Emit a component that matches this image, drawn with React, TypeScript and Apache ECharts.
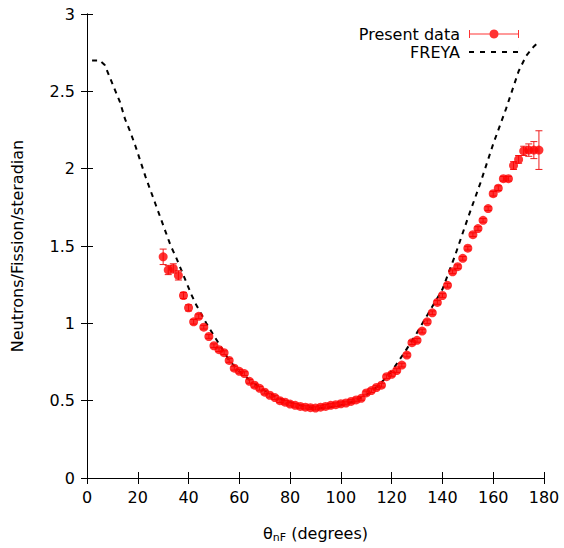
import React, { useEffect, useRef } from "react";
import * as echarts from "echarts";

const dataAngles = [
  30, 32, 34, 36, 38, 40, 42, 44, 46, 48, 50, 52, 54, 56, 58, 60, 62, 64, 66, 68,
  70, 72, 74, 76, 78, 80, 82, 84, 86, 88, 90, 92, 94, 96, 98, 100, 102, 104, 106, 108,
  110, 112, 114, 116, 118, 120, 122, 124, 126, 128, 130, 132, 134, 136, 138, 140, 142, 144, 146, 148,
  150, 152, 154, 156, 158, 160, 162, 164, 166, 168, 170, 172, 174, 176, 178,
];
const dataValues = [
  1.43, 1.345, 1.355, 1.31, 1.18, 1.1, 1.01, 1.045, 0.975, 0.915, 0.855, 0.83, 0.81, 0.76, 0.71, 0.69, 0.675, 0.625, 0.6, 0.58,
  0.555, 0.535, 0.52, 0.5, 0.49, 0.478, 0.47, 0.463, 0.458, 0.455, 0.452, 0.458, 0.463, 0.47, 0.474, 0.48, 0.485, 0.495, 0.505, 0.515,
  0.55, 0.565, 0.585, 0.6, 0.655, 0.67, 0.695, 0.73, 0.795, 0.875, 0.89, 0.95, 1.01, 1.068, 1.135, 1.18, 1.246, 1.333, 1.366, 1.42,
  1.486, 1.573, 1.613, 1.666, 1.742, 1.838, 1.874, 1.935, 1.935, 2.02, 2.06, 2.115, 2.12, 2.12, 2.12,
];
const dataErrors = [
  0.05, 0.03, 0.03, 0.03, 0.02, 0.02, 0.015, 0.015, 0.012, 0.012, 0.012, 0.012, 0.012, 0.012, 0.012, 0.012, 0.012, 0.012, 0.012, 0.012,
  0.012, 0.012, 0.012, 0.012, 0.012, 0.012, 0.012, 0.012, 0.012, 0.012, 0.012, 0.012, 0.012, 0.012, 0.012, 0.012, 0.012, 0.012, 0.012, 0.012,
  0.012, 0.012, 0.012, 0.012, 0.012, 0.012, 0.012, 0.012, 0.012, 0.012, 0.012, 0.012, 0.012, 0.012, 0.012, 0.012, 0.012, 0.012, 0.012, 0.012,
  0.012, 0.012, 0.012, 0.012, 0.012, 0.015, 0.015, 0.015, 0.015, 0.025, 0.025, 0.03, 0.04, 0.055, 0.125,
];

const freyaAngles = [
  2, 5, 7, 9, 11, 13, 15, 17, 19, 21, 23, 25, 27, 29, 31, 33, 35, 37, 39, 41,
  43, 45, 47, 50, 53, 56, 60, 65, 70, 75, 80, 85, 90, 95, 100, 105, 110, 115, 120, 125,
  130, 135, 140, 145, 150, 155, 160, 165, 170, 173, 176, 178,
];
const freyaValues = [
  2.7, 2.7, 2.67, 2.59, 2.51, 2.43, 2.32, 2.24, 2.15, 2.05, 1.95, 1.86, 1.77, 1.68, 1.59, 1.5, 1.43, 1.35, 1.27, 1.19,
  1.12, 1.06, 1.0, 0.92, 0.84, 0.76, 0.69, 0.62, 0.565, 0.52, 0.49, 0.465, 0.45, 0.455, 0.47, 0.495, 0.535, 0.6, 0.69, 0.81,
  0.94, 1.08, 1.22, 1.44, 1.68, 1.91, 2.16, 2.385, 2.63, 2.73, 2.79, 2.82,
];

const xTicks = { min: 0, max: 180, interval: 20 };
const yTicks = { min: 0, max: 3, interval: 0.5 };

const FONT = "DejaVu Sans";
const FS = 16;

function circlePath(cx: number, cy: number, r: number, n: number) {
  let d = "";
  for (let i = 0; i < n; i++) {
    const a = (i / n) * Math.PI * 2;
    const px = (cx + r * Math.cos(a)).toFixed(2);
    const py = (cy + r * Math.sin(a)).toFixed(2);
    d += (i === 0 ? "M" : "L") + px + "," + py;
  }
  return d + "Z";
}

export default function App() {
  const ref = useRef<HTMLDivElement>(null);
  useEffect(() => {
    if (!ref.current) return;
    const chart = echarts.init(ref.current, undefined, { renderer: "svg" });
    const points = dataAngles.map((a, i) => [a, dataValues[i]]);
    const errs = dataAngles.map((a, i) => [a, dataValues[i], dataErrors[i]]);
    const freya = freyaAngles.map((a, i) => [a, freyaValues[i]]);
    const axisCommon = {
      axisLine: { show: true, lineStyle: { color: "#000", width: 1 } },
      axisTick: { show: true, inside: true, length: 6, lineStyle: { color: "#000" } },
      splitLine: { show: false },
    };
    const dataIcon =
      "path://M0,0H0.01V10H0Z M0,4.5H50V5.5H0Z M0,1H1V9H0Z M49,1H50V9H49Z " + circlePath(25, 5, 4.5, 20);
    const freyaIcon = "path://M0,4H5V6H0Z M11,4H16V6H11Z M22,4H27V6H22Z M33,4H38V6H33Z M44,4H49V6H44Z M49.99,0H50V10H49.99Z";
    chart.setOption({
      animation: false,
      textStyle: { fontFamily: FONT, color: "#000" },
      grid: { left: 87, right: 20, top: 14, bottom: 57, containLabel: false },
      legend: {
        orient: "vertical",
        right: 40,
        top: 21,
        align: "right",
        itemWidth: 50,
        itemHeight: 10,
        itemGap: 2,
        textStyle: { fontFamily: FONT, fontSize: FS, color: "#000", padding: [0, 4, 0, 0] },
        data: [
          { name: "Present data", icon: dataIcon, itemStyle: { color: "#ff0000", borderWidth: 0 } },
          { name: "FREYA", icon: freyaIcon, itemStyle: { color: "#000", borderWidth: 0 } },
        ],
      },
      xAxis: [
        {
          type: "value",
          position: "bottom",
          ...xTicks,
          ...axisCommon,
          axisLabel: { fontFamily: FONT, fontSize: FS, color: "#000", margin: 11 },
          name: "{t|θ}{s|nF}{t| (degrees)}",
          nameLocation: "middle",
          nameGap: 45,
          nameTextStyle: {
            rich: {
              t: { fontFamily: FONT, fontSize: FS, color: "#000" },
              s: { fontFamily: FONT, fontSize: 11, color: "#000", padding: [9, 0, 0, 0] },
            },
          },
        },
        {
          type: "value",
          position: "top",
          ...xTicks,
          ...axisCommon,
          axisLabel: { show: false },
        },
      ],
      yAxis: [
        {
          type: "value",
          position: "left",
          ...yTicks,
          ...axisCommon,
          axisLabel: { fontFamily: FONT, fontSize: FS, color: "#000", margin: 12 },
          name: "Neutrons/Fission/steradian",
          nameLocation: "middle",
          nameGap: 62,
          nameTextStyle: { fontFamily: FONT, fontSize: FS, color: "#000" },
        },
        {
          type: "value",
          position: "right",
          ...yTicks,
          ...axisCommon,
          axisLabel: { show: false },
        },
      ],
      series: [
        {
          name: "FREYA",
          type: "line",
          data: freya,
          symbol: "none",
          smooth: false,
          lineStyle: { color: "#000", width: 2, type: [5, 5] },
          itemStyle: { color: "#000" },
          z: 2,
        },
        {
          name: "errors",
          type: "custom",
          data: errs,
          z: 3,
          renderItem: (params: any, api: any) => {
            const x = api.value(0);
            const y = api.value(1);
            const e = api.value(2);
            const lo = api.coord([x, y - e]);
            const hi = api.coord([x, y + e]);
            const c = 3.5;
            const style = { stroke: "#ee1c1c", lineWidth: 1 };
            return {
              type: "group",
              children: [
                { type: "line", shape: { x1: lo[0], y1: lo[1], x2: hi[0], y2: hi[1] }, style },
                { type: "line", shape: { x1: lo[0] - c, y1: lo[1], x2: lo[0] + c, y2: lo[1] }, style },
                { type: "line", shape: { x1: hi[0] - c, y1: hi[1], x2: hi[0] + c, y2: hi[1] }, style },
              ],
            };
          },
        },
        {
          name: "Present data",
          type: "scatter",
          data: points,
          symbol: "circle",
          symbolSize: 9,
          itemStyle: { color: "#ff0000" },
          z: 4,
        },
      ],
    });
    return () => chart.dispose();
  }, []);
  return <div ref={ref} style={{ width: 564, height: 548, position: "absolute", left: 0, top: 0 }} />;
}
